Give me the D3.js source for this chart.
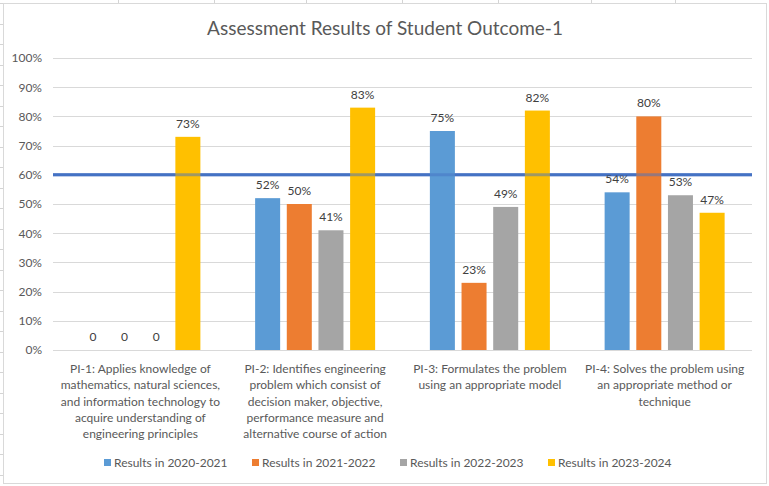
<!DOCTYPE html>
<html>
<head>
<meta charset="utf-8">
<script src="https://cdn.jsdelivr.net/npm/d3@7"></script>
<style>
  body { margin: 0; background: #fff; }
  svg { display: block; font-family: Lato, "Open Sans", sans-serif; }
</style>
</head>
<body>
<svg width="769" height="486"></svg>
<script>
var categories = ['PI-1', 'PI-2', 'PI-3', 'PI-4'];
var categoryLabels = [
  ['PI-1: Applies knowledge of', 'mathematics, natural sciences,', 'and information technology to', 'acquire understanding of', 'engineering principles'],
  ['PI-2: Identifies engineering', 'problem which consist of', 'decision maker, objective,', 'performance measure and', 'alternative course of action'],
  ['PI-3: Formulates the problem', 'using an appropriate model'],
  ['PI-4: Solves the problem using', 'an appropriate method or', 'technique']
];
var seriesNames = ['Results in 2020-2021', 'Results in 2021-2022', 'Results in 2022-2023', 'Results in 2023-2024'];
var seriesColors = ['#5B9BD5', '#ED7D31', '#A5A5A5', '#FFC000'];
var results2020 = [0, 0.52, 0.75, 0.54];
var results2021 = [0, 0.50, 0.23, 0.80];
var results2022 = [0, 0.41, 0.49, 0.53];
var results2023 = [0.73, 0.83, 0.82, 0.47];
var targetLevel = 0.60;
var yTicks = [0, 0.1, 0.2, 0.3, 0.4, 0.5, 0.6, 0.7, 0.8, 0.9, 1.0];

var seriesValues = [results2020, results2021, results2022, results2023];

var svg = d3.select('svg');

// faint spreadsheet cells around the chart
var sheetCols = [118, 214, 306, 402, 498, 591, 675];
sheetCols.forEach(function (cx) {
  svg.append('line')
    .attr('x1', cx + 0.5).attr('x2', cx + 0.5)
    .attr('y1', 0).attr('y2', 3)
    .attr('stroke', '#d4d4d4');
});
for (var ry = 3; ry < 486; ry += 20.5) {
  svg.append('line')
    .attr('x1', 0).attr('x2', 3)
    .attr('y1', Math.round(ry) + 0.5).attr('y2', Math.round(ry) + 0.5)
    .attr('stroke', '#d4d4d4');
}

// chart frame
svg.append('rect')
  .attr('x', 3.5).attr('y', 3.5)
  .attr('width', 763).attr('height', 480)
  .attr('fill', '#fff')
  .attr('stroke', '#d9d9d9');

svg.append('text')
  .attr('x', 385).attr('y', 35)
  .attr('text-anchor', 'middle')
  .attr('font-size', 19)
  .attr('fill', '#595959')
  .text('Assessment Results of Student Outcome-1');

var plotLeft = 53, plotRight = 752, plotTop = 58, plotBottom = 350;

var y = d3.scaleLinear().domain([0, 1]).range([plotBottom, plotTop]);
var x0 = d3.scaleBand().domain(categories).range([plotLeft, plotRight]);
var groupWidth = 120;
var x1 = d3.scaleBand().domain(seriesNames)
  .range([(x0.bandwidth() - groupWidth) / 2, (x0.bandwidth() + groupWidth) / 2])
  .paddingInner(0.21);

// gridlines
svg.append('g').selectAll('line')
  .data(yTicks)
  .join('line')
  .attr('x1', plotLeft).attr('x2', plotRight)
  .attr('y1', function (d) { return Math.round(y(d)) + 0.5; })
  .attr('y2', function (d) { return Math.round(y(d)) + 0.5; })
  .attr('stroke', '#d9d9d9');

var yAxis = svg.append('g')
  .attr('transform', 'translate(' + (plotLeft - 11) + ',0)')
  .call(d3.axisLeft(y).tickValues(yTicks).tickFormat(d3.format('.0%')).tickSize(0).tickPadding(0));
yAxis.select('.domain').remove();
yAxis.selectAll('text')
  .attr('font-family', 'Lato, sans-serif')
  .attr('font-size', 12)
  .attr('fill', '#595959');

// target line below bars
var targetLine = function (g, op) {
  g.append('line')
    .attr('x1', plotLeft).attr('x2', plotRight)
    .attr('y1', y(targetLevel)).attr('y2', y(targetLevel))
    .attr('stroke', '#4472C4')
    .attr('stroke-width', 3)
    .attr('opacity', op);
};
targetLine(svg, 1);

var groups = svg.append('g').selectAll('g')
  .data(categories)
  .join('g')
  .attr('transform', function (d) { return 'translate(' + x0(d) + ',0)'; });

var cells = function (d, i) {
  return seriesNames.map(function (s, j) { return { s: s, j: j, v: seriesValues[j][i] }; });
};

groups.selectAll('rect')
  .data(cells)
  .join('rect')
  .attr('x', function (d) { return x1(d.s); })
  .attr('width', x1.bandwidth())
  .attr('y', function (d) { return y(d.v); })
  .attr('height', function (d) { return y(0) - y(d.v); })
  .attr('fill', function (d) { return seriesColors[d.j]; });

// target line over bars, blended
targetLine(svg, 0.5);

groups.selectAll('text.lbl')
  .data(cells)
  .join('text')
  .attr('class', 'lbl')
  .attr('x', function (d) { return x1(d.s) + x1.bandwidth() / 2; })
  .attr('y', function (d) { return y(d.v) - 9; })
  .attr('text-anchor', 'middle')
  .attr('font-size', 12)
  .attr('fill', '#404040')
  .text(function (d) { return d.v === 0 ? '0' : d3.format('.0%')(d.v); });

// category labels
svg.append('g').selectAll('text')
  .data(categories)
  .join('text')
  .attr('x', function (d) { return x0(d) + x0.bandwidth() / 2; })
  .attr('y', 373)
  .attr('text-anchor', 'middle')
  .attr('font-size', 12)
  .attr('fill', '#595959')
  .each(function (d, i) {
    var t = d3.select(this);
    categoryLabels[i].forEach(function (line, k) {
      t.append('tspan')
        .attr('x', x0(d) + x0.bandwidth() / 2)
        .attr('dy', k === 0 ? 0 : 16.3)
        .text(line);
    });
  });

// legend
var legendX = d3.scalePoint().domain(seriesNames).range([104, 548]);
var legend = svg.append('g').selectAll('g')
  .data(seriesNames)
  .join('g')
  .attr('transform', function (d) { return 'translate(' + legendX(d) + ',459)'; });
legend.append('rect')
  .attr('width', 7).attr('height', 7)
  .attr('fill', function (d, i) { return seriesColors[i]; });
legend.append('text')
  .attr('x', 10).attr('y', 8)
  .attr('font-size', 12)
  .attr('fill', '#595959')
  .text(function (d) { return d; });
</script>
</body>
</html>
